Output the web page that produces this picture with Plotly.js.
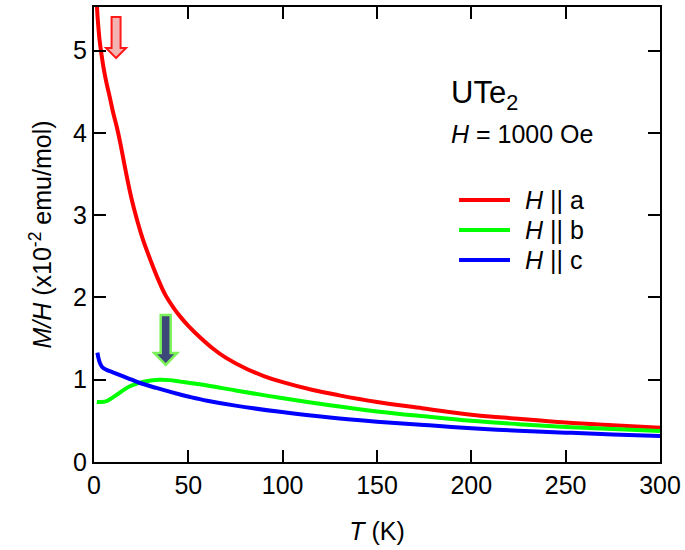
<!DOCTYPE html>
<html>
<head>
<meta charset="utf-8">
<script src="https://cdn.plot.ly/plotly-3.0.1.min.js"></script>
<style>
  html, body { margin: 0; padding: 0; background: #fff; }
  #chart { width: 685px; height: 550px; }
</style>
</head>
<body>
<div id="chart"></div>
<script>
// Magnetic susceptibility M/H of UTe2 vs temperature, field 1000 Oe along a, b, c
const seriesNames = ['a', 'b', 'c'];
const seriesColors = ['#ff0000', '#00ff00', '#0000ff'];

const T_a = [1.5, 2, 3, 4, 5, 6.5, 8.5, 10, 12, 14, 16, 18, 20, 22.6, 26, 30, 34, 37.6, 42, 45.6, 50, 56, 63, 70, 81, 90, 100, 116, 130, 150, 175, 200, 225, 250, 275, 300];
const chi_a = [5.56, 5.38, 5.12, 4.95, 4.80, 4.62, 4.42, 4.26, 4.08, 3.87, 3.63, 3.40, 3.19, 2.96, 2.70, 2.45, 2.22, 2.04, 1.88, 1.77, 1.655, 1.52, 1.38, 1.265, 1.13, 1.045, 0.97, 0.875, 0.81, 0.73, 0.65, 0.575, 0.525, 0.48, 0.447, 0.417];

const T_b = [1.5, 4, 6.7, 9, 12, 15, 19, 24.4, 30, 35, 40, 45.6, 51, 60, 75, 98.6, 125, 150, 175, 200, 225, 250, 275, 300];
const chi_b = [0.73, 0.73, 0.74, 0.77, 0.815, 0.865, 0.92, 0.965, 0.99, 1.0, 0.995, 0.977, 0.96, 0.93, 0.87, 0.78, 0.69, 0.615, 0.555, 0.50, 0.46, 0.425, 0.40, 0.377];

const T_c = [1.8, 2.3, 3.2, 4.5, 6.7, 10, 15.5, 20, 24.4, 33, 45.6, 51, 60, 75, 98.6, 125, 150, 175, 200, 225, 250, 275, 300];
const chi_c = [1.33, 1.27, 1.20, 1.15, 1.12, 1.09, 1.04, 1.00, 0.96, 0.90, 0.82, 0.79, 0.745, 0.685, 0.61, 0.54, 0.49, 0.45, 0.41, 0.38, 0.357, 0.335, 0.316];

// Arrows marking the features: temperature and the tip value
const arrowT = [11.7, 38];
const arrowTip = [4.91, 1.18];

const xTicks = [0, 50, 100, 150, 200, 250, 300];
const yTicks = [0, 1, 2, 3, 4, 5];

const FONT = 'Arial, "Liberation Sans", sans-serif';
const FS = 25;

const Ts = [T_a, T_b, T_c];
const chis = [chi_a, chi_b, chi_c];

const traces = Ts.map((t, i) => ({
  type: 'scatter',
  mode: 'lines',
  x: t,
  y: chis[i],
  name: 'H || ' + seriesNames[i],
  line: { color: seriesColors[i], width: 4, shape: 'spline', smoothing: 1 },
  showlegend: false,
  hoverinfo: 'x+y'
}));

// Block arrows drawn in pixel units around their tip
function blockArrow(t, tip, len, headH, headW, shaftW, fill, stroke, lw) {
  const p = 'M0,0 L' + (-headW) + ',' + headH + ' L' + (-shaftW) + ',' + headH +
            ' L' + (-shaftW) + ',' + len + ' L' + shaftW + ',' + len +
            ' L' + shaftW + ',' + headH + ' L' + headW + ',' + headH + ' Z';
  return {
    type: 'path', xref: 'x', yref: 'y',
    xsizemode: 'pixel', ysizemode: 'pixel',
    xanchor: t, yanchor: tip,
    path: p,
    fillcolor: fill,
    line: { color: stroke, width: lw },
    layer: 'above'
  };
}

const shapes = [
  blockArrow(arrowT[0], arrowTip[0], 41, 10, 10, 4.5, '#f2b3b3', '#ff1a1a', 2),
  blockArrow(arrowT[1], arrowTip[1], 50, 12, 11.5, 5, '#3c4878', '#7cf25a', 2.5)
];

// Hand-placed legend: short line samples plus labels
const legY = [0.576, 0.510, 0.444];
const annotations = [
  { xref: 'paper', yref: 'paper', x: 0.627, y: 0.807, xanchor: 'left', yanchor: 'middle',
    text: 'UTe<sub>2</sub>', showarrow: false, font: { family: FONT, size: 31, color: '#000' } },
  { xref: 'paper', yref: 'paper', x: 0.627, y: 0.721, xanchor: 'left', yanchor: 'middle',
    text: '<i>H</i> = 1000 Oe', showarrow: false, font: { family: FONT, size: FS, color: '#000' } }
];
seriesNames.forEach((n, i) => {
  shapes.push({ type: 'line', xref: 'paper', yref: 'paper', x0: 0.645, x1: 0.735, y0: legY[i], y1: legY[i],
    line: { color: seriesColors[i], width: 4 } });
  annotations.push({ xref: 'paper', yref: 'paper', x: 0.758, y: legY[i], xanchor: 'left', yanchor: 'middle',
    text: '<i>H</i> || ' + n, showarrow: false, font: { family: FONT, size: FS, color: '#000' } });
});

const axisCommon = {
  showline: true, linecolor: '#000', linewidth: 2,
  mirror: 'ticks', ticks: 'inside', ticklen: 12, tickwidth: 2, tickcolor: '#000',
  showgrid: false, zeroline: false,
  tickfont: { family: FONT, size: FS, color: '#000' }
};

const layout = {
  width: 685, height: 550,
  margin: { l: 94, r: 25, t: 7, b: 88 },
  paper_bgcolor: '#fff', plot_bgcolor: '#fff',
  font: { family: FONT, size: FS, color: '#000' },
  xaxis: Object.assign({}, axisCommon, {
    range: [0, 300], tickvals: xTicks, ticktext: xTicks.map(String),
    title: { text: '<i>T</i> (K)', font: { family: FONT, size: FS }, standoff: 24 }
  }),
  yaxis: Object.assign({}, axisCommon, {
    range: [0, 5.53], tickvals: yTicks, ticktext: yTicks.map(String),
    title: { text: '<i>M/H</i> (x10<sup>-2</sup> emu/mol)', font: { family: FONT, size: FS }, standoff: 14 }
  }),
  shapes: shapes,
  annotations: annotations,
  showlegend: false
};

Plotly.newPlot('chart', traces, layout, { displayModeBar: false, staticPlot: true });
</script>
</body>
</html>
